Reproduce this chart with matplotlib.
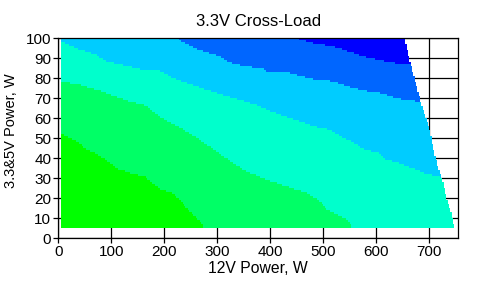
import numpy as np
import matplotlib
matplotlib.use('Agg')
import matplotlib.pyplot as plt
from matplotlib.colors import ListedColormap

plt.rcParams['font.family'] = ['Liberation Sans', 'DejaVu Sans']

# boundaries between colour zones (12V power -> 3.3&5V power)
b1_x = [6, 22, 41, 54, 69, 79, 98, 113, 138, 164, 173, 195, 214, 230, 239, 255, 271, 276]
b1_y = [52.2, 50, 47.5, 44, 42.5, 40.8, 37.5, 34.5, 32.2, 30.8, 28.3, 24.2, 22.5, 19.2, 15.8, 11.7, 7.5, 0]

b2_x = [6, 41, 72, 98, 129, 167, 173, 201, 236, 267, 302, 330, 355, 393, 431, 469, 494, 506, 538, 550, 557]
b2_y = [78.3, 76.7, 74.2, 71.7, 68.8, 66.2, 64.2, 59.2, 54.2, 49.2, 42.5, 37.5, 33.3, 29.2, 25.8, 22.5, 18.3, 14.2, 10, 8.3, 0]

b3_x = [6, 38, 72, 91, 129, 154, 192, 217, 249, 281, 311, 343, 375, 405, 437, 456, 481, 513, 535, 554, 572, 604, 620, 642, 676, 689, 717, 723]
b3_y = [98.3, 94.5, 91.7, 88.3, 86.2, 84.5, 83.5, 80, 77, 74, 71.5, 69, 66.5, 63, 60, 58.3, 55.8, 54.2, 50.5, 48.3, 45, 42.5, 39.2, 37.5, 34.2, 32.5, 30.8, 30]

b4_x = [223, 245, 264, 286, 305, 318, 337, 387, 396, 437, 478, 519, 557, 585, 607, 629, 651, 679]
b4_y = [100, 96.7, 94.2, 92.5, 90.8, 88.3, 86.7, 84.5, 82.8, 82.5, 79.6, 78.3, 75, 73.3, 72.5, 70.8, 69.2, 68.3]

b5_x = [450, 481, 519, 557, 579, 610, 635, 664]
b5_y = [100, 97.5, 95.8, 92.5, 90.5, 88.8, 87.5, 86.7]

# maximum 12V load for a given 3.3&5V load
edge_y = [5, 10, 20, 30, 40, 54, 69, 87, 100]
edge_x = [748, 744, 733, 724, 712, 701, 683, 665, 654]

zone_colors = ['#00FF00', '#00FF66', '#00FFCC', '#00CCFF', '#0066FF', '#0000FF']

xe = np.arange(5, 752.5, 2.5)
ye = np.arange(5, 101, 1)
xc = (xe[:-1] + xe[1:]) / 2
yc = (ye[:-1] + ye[1:]) / 2
X, Y = np.meshgrid(xc, yc)

zone = np.zeros(X.shape)
for bx, by in [(b1_x, b1_y), (b2_x, b2_y), (b3_x, b3_y), (b4_x, b4_y), (b5_x, b5_y)]:
    zone += Y > np.interp(X, bx, by)
zone = np.ma.masked_where(X > np.interp(Y, edge_y, edge_x), zone)

fig = plt.figure(figsize=(4.87, 2.86), dpi=100)
ax = fig.add_axes([58.3 / 487, 1 - 238.3 / 286, 400 / 487, 200 / 286])
ax.pcolormesh(xe, ye, zone, cmap=ListedColormap(zone_colors), vmin=-0.5, vmax=5.5, zorder=1)

ax.set_xlim(0, 755)
ax.set_ylim(0, 100)
ax.set_xticks(np.arange(0, 701, 100))
ax.set_yticks(np.arange(0, 101, 10))
ax.set_axisbelow(True)
ax.grid(True, color='black', lw=0.9)
ax.tick_params(direction='out', length=3.8, width=0.9, labelsize=11, pad=1.2)
for s in ax.spines.values():
    s.set_linewidth(0.9)

ax.set_title('3.3V Cross-Load', fontsize=12, pad=9)
ax.set_xlabel('12V Power, W', fontsize=11.3, labelpad=1)
ax.set_ylabel('3.3&5V Power, W', fontsize=10.5)
ax.yaxis.set_label_coords(-0.101, 0.539)

plt.savefig('out.png', dpi=100)
